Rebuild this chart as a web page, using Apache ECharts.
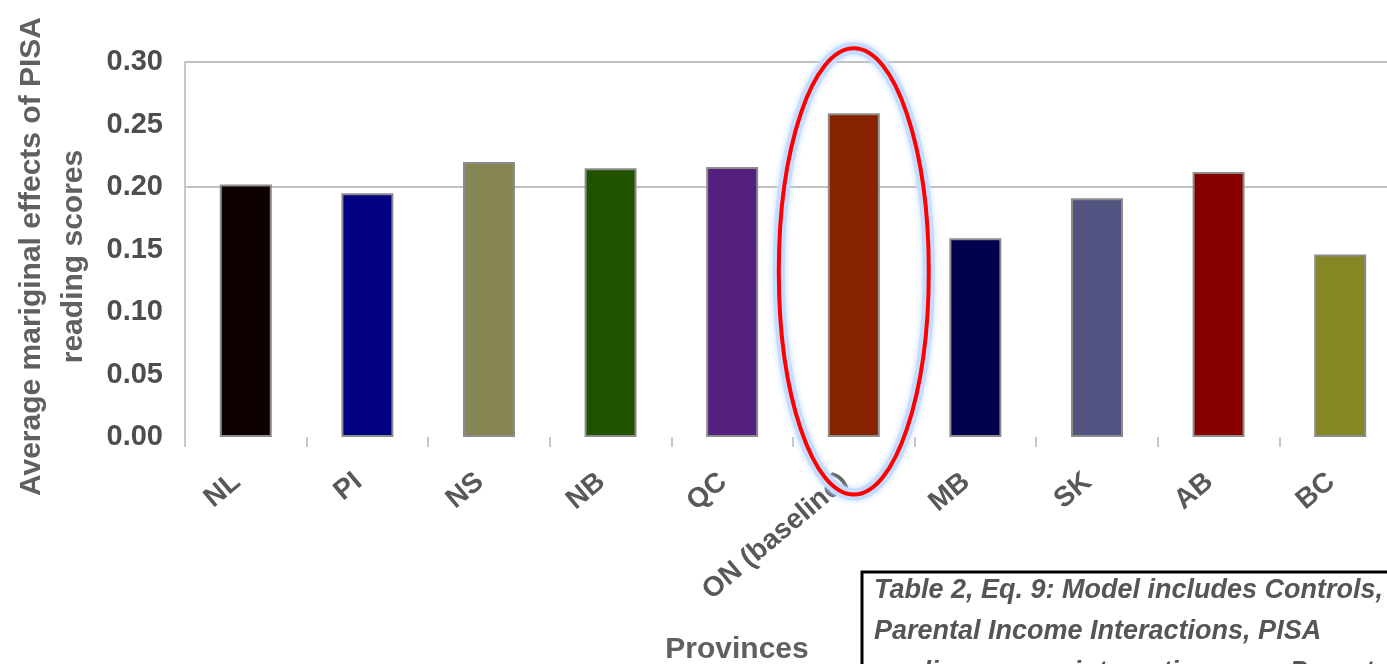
<!DOCTYPE html>
<html><head><meta charset="utf-8">
<script src="https://cdn.jsdelivr.net/npm/echarts@6/dist/echarts.min.js"></script>
<style>html,body{margin:0;padding:0;background:#fff;overflow:hidden;width:1387px;height:664px}#c{width:1420px;height:664px}</style>
</head><body><div id="c"></div>
<script>
const categories = ['NL', 'PI', 'NS', 'NB', 'QC', 'ON (baseline)', 'MB', 'SK', 'AB', 'BC'];
const values = [0.202, 0.195, 0.220, 0.215, 0.216, 0.259, 0.159, 0.191, 0.212, 0.146];
const barColors = ['#0d0000', '#000080', '#868654', '#215200', '#54207f', '#882300', '#00004d', '#535382', '#860000', '#868625'];
const yMin = 0, yMax = 0.30, yStep = 0.05;
const yTitle = 'Average mariginal effects of PISA\nreading scores';
const xTitle = 'Provinces';
const noteLines = ['Table 2, Eq. 9: Model includes Controls,', 'Parental Income Interactions, PISA', 'reading scores interactions , no Parental'];
const highlighted = 'ON (baseline)';
const ellipseTop = 0.311, ellipseBottom = -0.046;

const FONT = "'Liberation Sans', Arial, sans-serif";
const chart = echarts.init(document.getElementById('c'), null, {renderer: 'canvas'});
chart.setOption({
  animation: false,
  backgroundColor: '#ffffff',
  grid: {left: 185, top: 60, width: 1216, height: 377, containLabel: false},
  xAxis: {
    type: 'category', data: categories,
    axisLine: {show: false},
    axisTick: {show: true, length: 10, lineStyle: {color: '#c8c8c8', width: 2}},
    axisLabel: {interval: 0, rotate: 40, margin: 52, verticalAlign: 'bottom', fontSize: 28, fontWeight: 'bold', color: '#585858', fontFamily: FONT}
  },
  yAxis: {
    type: 'value', min: yMin, max: yMax, interval: yStep,
    axisLine: {show: true, lineStyle: {color: '#c8c8c8', width: 2}},
    axisTick: {show: false},
    splitLine: {show: true, lineStyle: {width: 2, color: ['rgba(0,0,0,0)', 'rgba(0,0,0,0)', 'rgba(0,0,0,0)', 'rgba(0,0,0,0)', '#c0c0c0', 'rgba(0,0,0,0)', '#c0c0c0']}},
    axisLabel: {formatter: v => v.toFixed(2), fontSize: 29, fontWeight: 'bold', color: '#4d4d4d', margin: 22, fontFamily: FONT},
    name: yTitle, nameLocation: 'middle', nameGap: 90,
    nameTextStyle: {fontSize: 30, fontWeight: 'bold', color: '#606060', lineHeight: 42, fontFamily: FONT, align: 'center', padding: [0, 14, 0, 0]}
  },
  series: [{
    type: 'bar', data: values.map((v, i) => ({value: v, itemStyle: {color: barColors[i]}})),
    barWidth: 52,
    itemStyle: {borderColor: '#8c8c8c', borderWidth: 2}
  }]
});

function place() {
  const cx = chart.convertToPixel({xAxisIndex: 0}, highlighted);
  const yt = chart.convertToPixel({yAxisIndex: 0}, ellipseTop);
  const yb = chart.convertToPixel({yAxisIndex: 0}, ellipseBottom);
  const shape = {cx: cx, cy: (yt + yb) / 2, rx: 75, ry: (yb - yt) / 2};
  chart.setOption({
    graphic: [
      {type: 'ellipse', z: 99, shape: shape,
       style: {fill: null, stroke: '#c4dcff', lineWidth: 12, shadowBlur: 6, shadowColor: '#c4dcff'}},
      {type: 'ellipse', z: 100, shape: shape,
       style: {fill: null, stroke: '#ff0000', lineWidth: 4}},
      {type: 'text', z: 50, x: 737, y: 650, style: {text: xTitle, font: "bold 30px " + FONT, fill: '#606060', textAlign: 'center', textVerticalAlign: 'middle'}},
      {type: 'rect', z: 50, shape: {x: 862, y: 572, width: 600, height: 200}, style: {fill: '#ffffff', stroke: '#000000', lineWidth: 3}},
      {type: 'text', z: 51, x: 874, y: 570, style: {text: noteLines.join('\n'), font: "italic bold 27px " + FONT, fill: '#555555', lineHeight: 41, textVerticalAlign: 'top', textAlign: 'left'}}
    ]
  });
}
place();
</script></body></html>
